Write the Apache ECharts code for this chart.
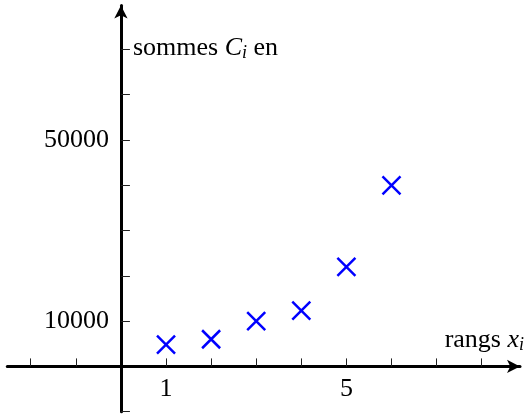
<!DOCTYPE html>
<html>
<head>
<meta charset="utf-8">
<script src="https://cdn.jsdelivr.net/npm/echarts@6/dist/echarts.min.js"></script>
<style>
html,body{margin:0;padding:0;background:#fff;}
#chart{width:526px;height:415px;}
</style>
</head>
<body>
<div id="chart"></div>
<script>
const rangs = [1, 2, 3, 4, 5, 6];
const sommes = [4800, 6000, 10000, 12300, 22000, 40000];
const xTickValues = [-2, -1, 1, 2, 3, 4, 5, 6, 7, 8];
const xLabelValues = [1, 5];
const yTickValues = [-10000, 10000, 20000, 30000, 40000, 50000, 60000, 70000];
const yLabelValues = [10000, 50000];

const FONT = '"Liberation Serif", "DejaVu Serif", serif';
const GRID = { left: 7.3, right: 6, top: 5.5, bottom: 3.3 };
const richStyles = {
  t: { fontFamily: FONT, fontSize: 26, color: '#000' },
  c: { fontFamily: FONT, fontSize: 26, fontStyle: 'italic', color: '#000' },
  s: { fontFamily: FONT, fontSize: 18, fontStyle: 'italic', color: '#000', padding: [10, 0, 0, 0] }
};
const chart = echarts.init(document.getElementById('chart'));
chart.setOption({
  animation: false,
  backgroundColor: '#fff',
  grid: Object.assign({ containLabel: false, outerBoundsMode: 'none' }, GRID),
  xAxis: {
    type: 'value', min: -2.52, max: 8.85, position: 'bottom',
    splitLine: { show: false },
    axisLine: { onZero: false, symbol: ['none', 'arrow'], symbolSize: [10, 13],
      lineStyle: { color: '#000', width: 3 } },
    axisTick: { show: true, inside: true, length: 8, customValues: xTickValues,
      lineStyle: { color: '#222', width: 1 } },
    axisLabel: { show: true, customValues: xLabelValues, margin: 10,
      formatter: v => String(v),
      fontFamily: FONT, fontSize: 26, color: '#000' },
    name: '{t|rangs }{c|x}{s|i}',
    nameLocation: 'end', nameGap: 4,
    nameTextStyle: { align: 'right', verticalAlign: 'bottom', padding: [0, 0, 12, 0],
      fontFamily: FONT, fontSize: 26, color: '#000', rich: richStyles }
  },
  yAxis: {
    type: 'value', min: -10000, max: 79700, position: 'left',
    splitLine: { show: false },
    axisLine: { onZero: false, symbol: ['none', 'arrow'], symbolSize: [10, 13],
      lineStyle: { color: '#000', width: 3 } },
    axisTick: { show: true, inside: true, length: 9, customValues: yTickValues,
      lineStyle: { color: '#222', width: 1 } },
    axisLabel: { show: true, customValues: yLabelValues, margin: 12,
      formatter: v => String(v),
      fontFamily: FONT, fontSize: 26, color: '#000' },
    name: '{t|sommes }{c|C}{s|i}{t| en}',
    nameLocation: 'end', nameGap: -43,
    nameTextStyle: { align: 'left', verticalAlign: 'middle', padding: [0, 0, 0, 12],
      fontFamily: FONT, fontSize: 26, color: '#000', rich: richStyles }
  },
  series: [{
    type: 'scatter',
    data: rangs.map((x, i) => [x, sommes[i]]),
    symbol: 'path://M0,0L10,10M10,0L0,10',
    symbolSize: 18,
    itemStyle: { color: 'none', borderColor: '#0000ff', borderWidth: 2.5, opacity: 1 },
    emphasis: { disabled: true }
  }]
});
// Move each axis (line, ticks, labels, name) so that the axes cross at the origin.
const H = 415;
const x0 = chart.convertToPixel({ xAxisIndex: 0 }, 0);
const y0 = chart.convertToPixel({ yAxisIndex: 0 }, 0);
chart.setOption({
  yAxis: { offset: -(x0 - GRID.left) },
  xAxis: { offset: -((H - GRID.bottom) - y0) }
});
</script>
</body>
</html>
